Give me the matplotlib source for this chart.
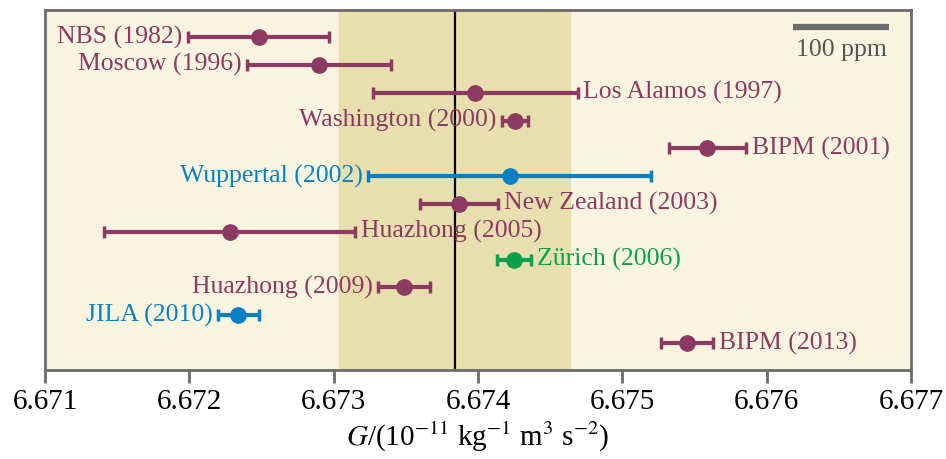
import matplotlib.pyplot as plt

plt.rcParams['font.family'] = ['Liberation Serif', 'DejaVu Serif']
plt.rcParams['mathtext.fontset'] = 'stix'

labels = ["NBS (1982)", "Moscow (1996)", "Los Alamos (1997)", "Washington (2000)",
          "BIPM (2001)", "Wuppertal (2002)", "New Zealand (2003)", "Huazhong (2005)",
          "Zürich (2006)", "Huazhong (2009)", "JILA (2010)", "BIPM (2013)"]
G = [6.67248, 6.67290, 6.67398, 6.674255, 6.67559, 6.67422, 6.67387, 6.67228,
     6.67425, 6.67349, 6.67234, 6.67545]
err = [0.00049, 0.00050, 0.00071, 0.000092, 0.00027, 0.00098, 0.00027, 0.00087,
       0.00012, 0.00018, 0.00014, 0.00018]
side = ["L", "L", "R", "L", "R", "L", "R", "R", "R", "L", "L", "R"]
kind = ["m", "m", "m", "m", "m", "b", "m", "m", "g", "m", "b", "m"]

codata = 6.67384
codata_err = 0.00080

colors = {"m": "#8c3a62", "b": "#0a7fc2", "g": "#0da04c"}
frame = "#6b6b6b"

fig = plt.figure(figsize=(9.46, 4.59), dpi=100)
ax = fig.add_axes([0.0476, 0.194, 0.963 - 0.0476, 0.978 - 0.194])
ax.set_facecolor("#f8f4e0")

ax.axvspan(codata - codata_err, codata + codata_err, color="#e8dfae", zorder=0)
ax.axvline(codata, color="black", lw=1.6, zorder=1)

for i in range(len(G)):
    c = colors[kind[i]]
    ax.errorbar(G[i], i, xerr=err[i], fmt="o", color=c, ms=11, elinewidth=3,
                capsize=4, capthick=2.5, zorder=3)
    if side[i] == "L":
        ax.annotate(labels[i], (G[i] - err[i], i), xytext=(-4, 0),
                    textcoords="offset points", ha="right", va="center",
                    color=c, fontsize=18.5)
    else:
        ax.annotate(labels[i], (G[i] + err[i], i), xytext=(4, 0),
                    textcoords="offset points", ha="left", va="center",
                    color=c, fontsize=18.5)

# scale bar, 100 ppm
bar_end = 6.67685
bar_len = 100e-6 * codata
ax.plot([bar_end - bar_len, bar_end], [-0.35, -0.35], color=frame, lw=4.5,
        solid_capstyle="butt")
ax.text(bar_end - bar_len / 2, 0.45, "100 ppm", ha="center", va="center",
        color="#555555", fontsize=18.5)

ax.set_xlim(6.671, 6.677)
ax.set_ylim(11.97, -0.97)
ax.set_yticks([])
ax.set_xticks([6.671, 6.672, 6.673, 6.674, 6.675, 6.676, 6.677])
ax.set_xticklabels(["6.671", "6.672", "6.673", "6.674", "6.675", "6.676", "6.677"])
ax.tick_params(axis="x", direction="out", length=9, width=2, color=frame,
               labelsize=21, pad=5)
for s in ax.spines.values():
    s.set_color(frame)
    s.set_linewidth(2)

ax.set_xlabel(r"$G$/(10$^{-11}$ kg$^{-1}$ m$^3$ s$^{-2}$)", fontsize=21, labelpad=3)

fig.savefig("out.png", dpi=100)
